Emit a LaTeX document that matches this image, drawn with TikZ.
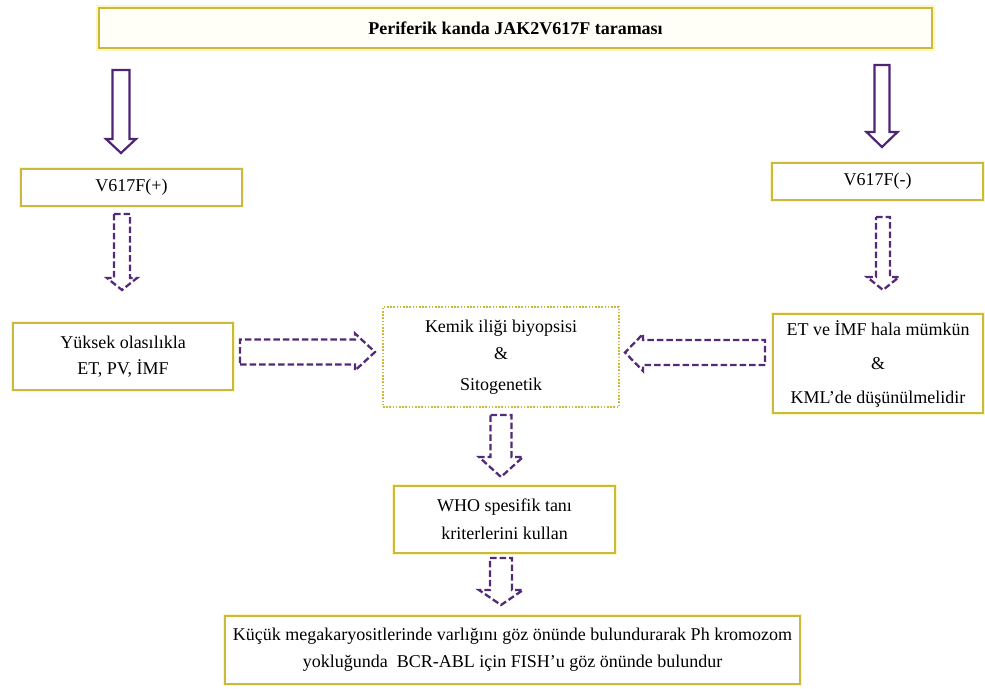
\documentclass[tikz,border=0pt]{standalone}
\usepackage{fontspec}
\setmainfont{Liberation Serif}
\usetikzlibrary{calc}
\definecolor{boxline}{RGB}{204,184,58}
\definecolor{glow}{RGB}{252,246,196}
\definecolor{arrowc}{RGB}{78,36,116}
\definecolor{dashc}{RGB}{82,42,118}

% vertical block arrow: style, top, tip, shaft half width, head half width, head length
\newcommand\vblock[6]{%
  \draw[#1] let \p1=(#2), \p2=(#3) in
   (\x1-#4pt,\y1) -- (\x1+#4pt,\y1) -- (\x1+#4pt,\y2+#6pt) -- (\x1+#5pt,\y2+#6pt)
   -- (\x2,\y2) -- (\x1-#5pt,\y2+#6pt) -- (\x1-#4pt,\y2+#6pt) -- cycle;}
% horizontal block arrow: style, start, tip, shaft half width, head half width, head length
\newcommand\hblock[6]{%
  \draw[#1] let \p1=(#2), \p2=(#3), \n1={sign(\x2-\x1)} in
   (\x1,\y1-#4pt) -- (\x2-\n1*#6pt,\y1-#4pt) -- (\x2-\n1*#6pt,\y1-#5pt) -- (\x2,\y2)
   -- (\x2-\n1*#6pt,\y1+#5pt) -- (\x2-\n1*#6pt,\y1+#4pt) -- (\x1,\y1+#4pt) -- cycle;}

\tikzset{
  box/.style={draw=boxline, line width=1.3pt, fill=white, inner sep=0pt, align=center,
    preaction={draw=glow, line width=4.5pt}},
  topbox/.style={box, line width=2.4pt, fill={rgb,255:red,255;green,255;blue,248},
    preaction={draw=glow, line width=6pt}},
  dotbox/.style={draw=boxline, line width=1.2pt, dash pattern=on 1.6pt off 1.6pt,
    fill=white, inner sep=0pt, align=center},
  solidarrow/.style={draw=arrowc, line width=2.2pt, line join=miter},
  dasharrow/.style={draw=dashc, line width=2.3pt, dash pattern=on 6.5pt off 3pt, line join=miter},
}

\begin{document}
\begin{tikzpicture}[x=1pt,y=-1pt]
\useasboundingbox[fill=white] (0,0) rectangle (985,688);

\node[topbox, minimum width=833pt, minimum height=40pt,
  font=\fontsize{18}{22}\selectfont\bfseries] (top) at (515.5,28) {Periferik kanda JAK2V617F taraması};

\node[box, minimum width=221pt, minimum height=37pt, font=\fontsize{18}{22}\selectfont]
  (pos) at (131.5,187.5) {V617F(+)};
\node[box, minimum width=211pt, minimum height=37pt, font=\fontsize{18}{22}\selectfont]
  (neg) at (877.5,181.5) {V617F(-)};

\node[box, minimum width=220pt, minimum height=67pt, font=\fontsize{18}{26}\selectfont]
  (high) at (123,356.5) {Yüksek olasılıkla\\ET, PV, İMF};
\node[dotbox, minimum width=236pt, minimum height=100pt, font=\fontsize{18}{29}\selectfont]
  (bm) at (501,357) {\rule{0pt}{0pt}\raisebox{-2pt}{Kemik iliği biyopsisi}\\\&\\\raisebox{-2pt}{Sitogenetik}};
\node[box, minimum width=210pt, minimum height=99pt, font=\fontsize{18}{34}\selectfont]
  (et) at (878,363.5) {ET ve İMF hala mümkün\\\&\\KML’de düşünülmelidir};

\node[box, minimum width=221pt, minimum height=67pt, font=\fontsize{18}{28}\selectfont]
  (who) at (504.5,519.5) {WHO spesifik tanı\\kriterlerini kullan};
\node[box, minimum width=575pt, minimum height=68pt, font=\fontsize{18}{27}\selectfont]
  (fish) at (512.5,650) {Küçük megakaryositlerinde varlığını göz önünde bulundurarak Ph kromozom\\yokluğunda\ \ BCR-ABL için FISH’u göz önünde bulundur};

% connector end points
\coordinate (a1s) at (121,70);   \coordinate (a1t) at (121,153);
\coordinate (a2s) at (882,65);   \coordinate (a2t) at (882,147);
\coordinate (d1s) at (122,214);  \coordinate (d1t) at (122,290);
\coordinate (d2s) at (883,217);  \coordinate (d2t) at (883,290);
\coordinate (h1s) at (240,352);  \coordinate (h1t) at (375,352);
\coordinate (h2s) at (765,352.5);\coordinate (h2t) at (625,352.5);
\coordinate (d3s) at (501,415);  \coordinate (d3t) at (501,477);
\coordinate (d4s) at (501,558);  \coordinate (d4t) at (501,605);

\vblock{solidarrow}{a1s}{a1t}{8.5}{15}{14}
\vblock{solidarrow}{a2s}{a2t}{7.5}{15.5}{15}
\vblock{dasharrow}{d1s}{d1t}{8}{15}{12}
\vblock{dasharrow}{d2s}{d2t}{7}{16}{13}
\hblock{dasharrow}{h1s}{h1t}{12.5}{18.5}{20}
\hblock{dasharrow}{h2s}{h2t}{12.5}{18.5}{18}
\vblock{dasharrow}{d3s}{d3t}{10.5}{22}{20}
\vblock{dasharrow}{d4s}{d4t}{11}{22}{15}
\end{tikzpicture}
\end{document}
